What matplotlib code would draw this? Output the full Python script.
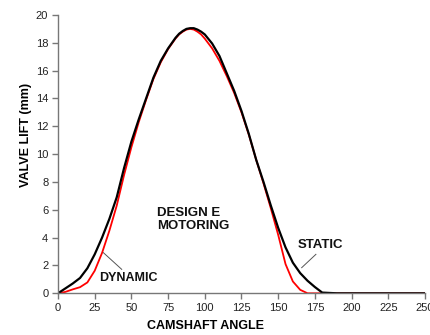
import matplotlib
matplotlib.use("Agg")
import matplotlib.pyplot as plt

# Camshaft angle (deg)
angle = [0, 5, 10, 15, 20, 25, 30, 35, 40, 45, 50, 55, 60, 65, 70, 75, 80,
         82.5, 85, 87.5, 90, 92.5, 95, 97.5, 100, 105, 110, 115, 120, 125,
         130, 135, 140, 145, 150, 155, 160, 165, 170, 175, 180, 190, 200,
         210, 220, 230, 240, 250]

# Valve lift (mm), static cam profile
static_lift = [0.0, 0.35, 0.7, 1.1, 1.8, 2.8, 4.0, 5.35, 6.9, 9.0, 10.9, 12.5,
               14.0, 15.5, 16.7, 17.6, 18.35, 18.65, 18.85, 19.0, 19.05,
               19.05, 18.95, 18.8, 18.6, 17.95, 17.05, 15.8, 14.55, 13.1,
               11.45, 9.6, 8.0, 6.3, 4.7, 3.3, 2.2, 1.45, 0.9, 0.45, 0.05,
               0, 0, 0, 0, 0, 0, 0]

# Valve lift (mm), dynamic (motoring) measurement
dynamic_lift = [0.0, 0.1, 0.28, 0.44, 0.78, 1.62, 2.9, 4.5, 6.3, 8.5, 10.5, 12.3,
                13.9, 15.4, 16.6, 17.55, 18.3, 18.6, 18.8, 18.95, 19.0,
                18.95, 18.8, 18.6, 18.3, 17.6, 16.7, 15.6, 14.4, 13.0,
                11.4, 9.6, 7.9, 6.1, 4.2, 2.1, 0.85, 0.25, 0.0, 0.0, 0.0,
                0, 0, 0, 0, 0, 0, 0]

x_ticks = [0, 25, 50, 75, 100, 125, 150, 175, 200, 225, 250]
y_ticks = [0, 2, 4, 6, 8, 10, 12, 14, 16, 18, 20]

plt.rcParams["font.family"] = ["Liberation Sans", "DejaVu Sans"]

fig = plt.figure(figsize=(4.31, 3.35), dpi=100)
ax = fig.add_axes([0.1346, 0.1245, 0.8514, 0.8308])

ax.plot(angle, dynamic_lift, color="#ff0000", lw=1.3, solid_capstyle="round",
        solid_joinstyle="round")
ax.plot(angle, static_lift, color="black", lw=1.6, solid_capstyle="round",
        solid_joinstyle="round")

ax.set_xlim(0, 250)
ax.set_ylim(0, 20)
ax.set_xticks(x_ticks)
ax.set_yticks(y_ticks)

for side in ("top", "right"):
    ax.spines[side].set_visible(False)
for side in ("left", "bottom"):
    ax.spines[side].set_color("#777777")
    ax.spines[side].set_linewidth(1.0)
ax.tick_params(direction="out", length=4, width=1, color="#777777",
               labelsize=8, labelcolor="#222222", pad=3)

ax.set_xlabel("CAMSHAFT ANGLE", fontsize=9, fontweight="bold")
ax.set_ylabel("VALVE LIFT (mm)", fontsize=9, fontweight="bold")
ax.xaxis.set_label_coords(0.403, -0.096)
ax.yaxis.set_label_coords(-0.071, 0.569)

ax.text(67.5, 6.2, "DESIGN E\nMOTORING", fontsize=9.5, fontweight="bold",
        ha="left", va="top", linespacing=1.15, color="#111111")

ax.text(28, 1.08, "DYNAMIC", fontsize=9, fontweight="bold",
        ha="left", va="center", color="#111111")
ax.plot([43.4, 30.9], [1.72, 2.92], color="#555555", lw=0.7)

ax.text(163, 3.5, "STATIC", fontsize=9.5, fontweight="bold",
        ha="left", va="center", color="#111111")
ax.plot([175.7, 166.0], [2.8, 1.84], color="#555555", lw=0.7)

fig.savefig("out.png", dpi=100)
